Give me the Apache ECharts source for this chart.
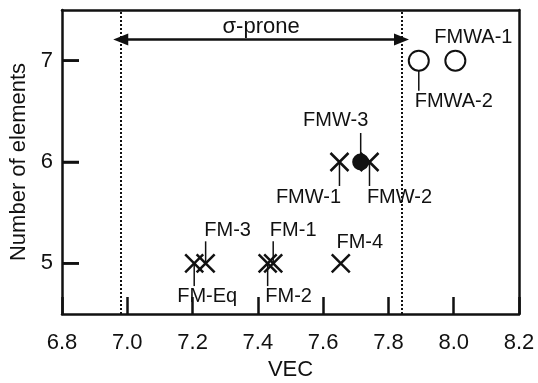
<!DOCTYPE html>
<html>
<head>
<meta charset="utf-8">
<script src="https://cdn.jsdelivr.net/npm/echarts@6/dist/echarts.min.js"></script>
<style>
html,body{margin:0;padding:0;background:#fff;}
#chart{width:538px;height:383px;}
</style>
</head>
<body>
<div id="chart"></div>
<script>
/*---- data ----*/
var alloys   = ['FM-Eq', 'FM-3', 'FM-2', 'FM-1', 'FM-4', 'FMW-1', 'FMW-2', 'FMW-3', 'FMWA-2', 'FMWA-1'];
var vec      = [7.205, 7.24, 7.43, 7.447, 7.654, 7.65, 7.742, 7.715, 7.893, 8.005];
var elements = [5, 5, 5, 5, 5, 6, 6, 6, 7, 7];
var marker   = ['cross', 'cross', 'cross', 'cross', 'cross', 'cross', 'cross', 'filled', 'open', 'open'];
var xRange   = [6.8, 8.2];
var yRange   = [4.5, 7.5];
var yTicks   = [5, 6, 7];
var sigmaRange = [6.98, 7.84];
var sigmaText  = 'σ-prone';
var sigmaArrowY = 7.21;

// label offset from marker in px: dx, dy, leader from, leader to
var labelPos = {
    'FM-Eq':  [13, 33, 0, 23],
    'FM-3':   [22, -33, 0, -22],
    'FM-2':   [21, 33, 0, 23],
    'FM-1':   [20, -33, 0, -22],
    'FM-4':   [19, -21, 0, 0],
    'FMW-1':  [-31, 35, 0, 24],
    'FMW-2':  [30, 35, 0, 24],
    'FMW-3':  [-25, -42, 0, -29],
    'FMWA-2': [35, 41, 10, 30],
    'FMWA-1': [18, -23, 0, 0]
};

var ink = '#111';
var font = 'Liberation Sans, Arial, sans-serif';
var tickLen = 17;

function pick(kind) {
    var out = [];
    alloys.forEach(function (n, i) {
        if (marker[i] === kind) out.push([vec[i], elements[i]]);
    });
    return out;
}

// plain axis used only to close the frame on top/right
function frameAxis(pos, range) {
    return {
        type: 'value', position: pos, min: range[0], max: range[1], z: 10,
        axisLine: {show: true, onZero: false, lineStyle: {color: ink, width: 2.5}},
        axisTick: {show: false}, axisLabel: {show: false}, splitLine: {show: false}
    };
}

var chart = echarts.init(document.getElementById('chart'));

var option = {
    animation: false,
    backgroundColor: '#fff',
    grid: {left: 62, right: 19, top: 10, bottom: 69, containLabel: false, outerBoundsMode: 'none'},
    xAxis: [{
        type: 'value', min: xRange[0], max: xRange[1], interval: 0.2, position: 'bottom', z: 10,
        name: 'VEC', nameLocation: 'middle', nameGap: 42,
        nameTextStyle: {fontSize: 22, color: ink, fontFamily: font},
        axisLine: {show: true, onZero: false, lineStyle: {color: ink, width: 2.5}},
        axisTick: {show: true, inside: true, length: tickLen, lineStyle: {color: ink, width: 2.5}},
        axisLabel: {
            fontSize: 22, color: ink, fontFamily: font, margin: 18,
            formatter: function (v) { return v.toFixed(1); }
        },
        splitLine: {show: false}
    }, frameAxis('top', xRange)],
    yAxis: [{
        type: 'value', min: yRange[0], max: yRange[1], position: 'left', z: 10,
        name: 'Number of elements', nameLocation: 'middle', nameGap: 27,
        nameTextStyle: {fontSize: 22, color: ink, fontFamily: font},
        axisLine: {show: true, onZero: false, lineStyle: {color: ink, width: 2.5}},
        axisTick: {show: true, inside: true, length: tickLen, customValues: yTicks, lineStyle: {color: ink, width: 2.5}},
        axisLabel: {fontSize: 22, color: ink, fontFamily: font, margin: 9, customValues: yTicks},
        splitLine: {show: false}
    }, frameAxis('right', yRange)],
    series: [
        {
            // guide lines and σ-prone arrow
            type: 'scatter', data: [], z: 1, silent: true,
            markLine: {
                silent: true, animation: false,
                symbol: 'none',
                label: {show: false},
                lineStyle: {type: 'dotted', width: 2, color: ink, opacity: 1},
                data: [
                    {xAxis: sigmaRange[0]},
                    {xAxis: sigmaRange[1]},
                    [
                        {
                            coord: [sigmaRange[0], sigmaArrowY], symbol: 'triangle', symbolSize: [12, 15],
                            lineStyle: {type: 'solid', width: 2.5, color: ink},
                            label: {
                                show: true, formatter: sigmaText, position: 'middle',
                                fontSize: 22, color: ink, fontFamily: font, distance: 1
                            }
                        },
                        {coord: [sigmaRange[1], sigmaArrowY], symbol: 'triangle', symbolSize: [12, 15]}
                    ]
                ]
            }
        },
        {
            // inward y ticks, placed through the y scale
            type: 'custom', z: 6, silent: true, clip: false,
            data: yTicks.map(function (v) { return [xRange[0], v]; }),
            renderItem: function (params, api) {
                var pt = api.coord([api.value(0), api.value(1)]);
                return {
                    type: 'line',
                    shape: {x1: pt[0], y1: pt[1], x2: pt[0] + tickLen, y2: pt[1]},
                    style: {stroke: ink, lineWidth: 2.5}
                };
            }
        },
        {
            type: 'scatter', z: 3,
            data: pick('cross'),
            symbol: 'path://M0,0L10,10M10,0L0,10',
            symbolSize: 18,
            itemStyle: {color: 'none', borderColor: ink, borderWidth: 2.5, opacity: 1}
        },
        {
            type: 'scatter', z: 3,
            data: pick('filled'),
            symbol: 'circle', symbolSize: 17,
            itemStyle: {color: ink, opacity: 1}
        },
        {
            type: 'scatter', z: 3,
            data: pick('open'),
            symbol: 'circle', symbolSize: 20,
            itemStyle: {color: '#fff', borderColor: ink, borderWidth: 2, opacity: 1}
        },
        {
            // alloy names with leader lines
            type: 'custom', z: 4, silent: true,
            data: alloys.map(function (n, i) { return [vec[i], elements[i], i]; }),
            renderItem: function (params, api) {
                var name = alloys[api.value(2)];
                var p = labelPos[name];
                var pt = api.coord([api.value(0), api.value(1)]);
                var kids = [];
                if (p[3] !== p[2]) {
                    kids.push({
                        type: 'line',
                        shape: {x1: pt[0], y1: pt[1] + p[2], x2: pt[0], y2: pt[1] + p[3]},
                        style: {stroke: ink, lineWidth: 1.5}
                    });
                }
                kids.push({
                    type: 'text', x: pt[0] + p[0], y: pt[1] + p[1],
                    style: {
                        text: name, fill: ink, font: '20px ' + font,
                        align: 'center', verticalAlign: 'middle',
                        backgroundColor: '#fff', padding: [0, 2]
                    }
                });
                return {type: 'group', children: kids};
            }
        }
    ]
};

chart.setOption(option);
</script>
</body>
</html>
